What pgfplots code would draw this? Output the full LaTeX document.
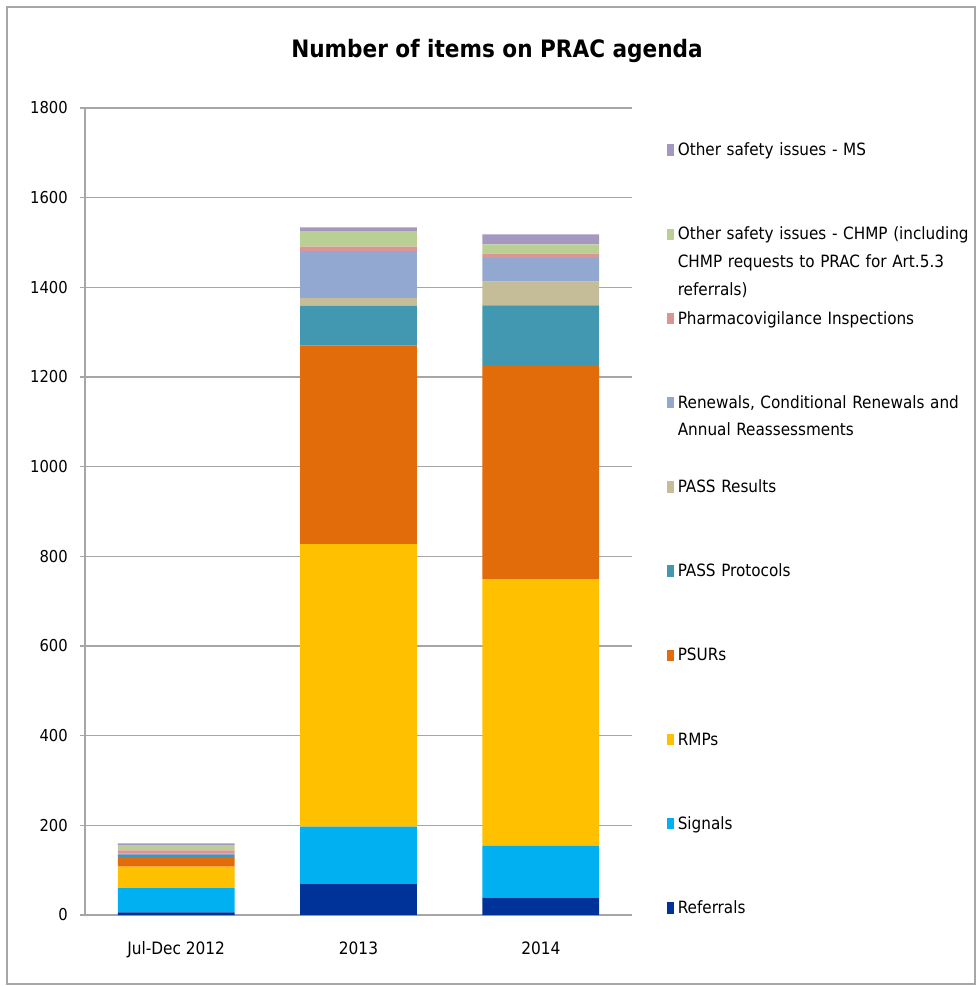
\documentclass[border=0pt]{standalone}
\usepackage{pgfplots}
\pgfplotsset{compat=1.18}
\usepackage{pgfplotstable}
\usepackage{fontspec}
\IfFontExistsTF{DejaVu Sans Condensed}{\setmainfont{DejaVu Sans Condensed}}{\setmainfont{DejaVu Sans}[FakeStretch=0.88]}

\definecolor{cRef}{HTML}{003399}
\definecolor{cSig}{HTML}{00B0F0}
\definecolor{cRmp}{HTML}{FFC000}
\definecolor{cPsur}{HTML}{E36C0A}
\definecolor{cProt}{HTML}{4298B0}
\definecolor{cRes}{HTML}{C4BD97}
\definecolor{cRen}{HTML}{93A8D0}
\definecolor{cPi}{HTML}{D99694}
\definecolor{cChmp}{HTML}{BACF94}
\definecolor{cMs}{HTML}{A598C0}
\definecolor{cGrid}{HTML}{A6A6A6}

\pgfplotstableread{
x ref sig rmp psur prot res ren pi chmp ms
0 6 54 48 21 5 0 3 7 11 5
1 70 127 630 443 89 17 105 10 33 10
2 39 116 594 475 136 53 52 10 21 22
}\datatable

\pgfplotsset{myleg/.style={legend image code/.code={\fill[##1,draw=none] (0pt,0pt) rectangle (5.5pt,8.5pt);}}}

\begin{document}
\begin{tikzpicture}
\useasboundingbox (-63.75pt,-53.25pt) rectangle (669pt,686.25pt);
\draw[cGrid, line width=1pt] (-58.5pt,-51.75pt) rectangle (667.5pt,681pt);
\node[font=\fontsize{18}{21}\selectfont\bfseries] at (309pt,648pt) {Number of items on PRAC agenda};
\begin{axis}[
  at={(0pt,0pt)}, anchor=south west, scale only axis,
  width=410.25pt, height=605.25pt,
  ybar stacked, bar width=0.64,
  xmin=-0.5, xmax=2.5, ymin=0, ymax=1800,
  xtick={0,1,2}, xticklabels={Jul-Dec 2012,2013,2014},
  ytick={0,200,...,1800},
  ymajorgrids, grid style={line width=1pt, cGrid},
  axis x line*=bottom, axis y line*=left,
  axis line style={line width=1pt, cGrid, -},
  x tick style={draw=none},
  y tick style={line width=1pt, cGrid},
  tick align=outside, major tick length=3.75pt,
  /pgf/number format/assume math mode=true,
  /pgf/number format/1000 sep={},
  yticklabel style={font=\fontsize{12.3}{14}\selectfont, anchor=east, inner sep=0pt, xshift=-9pt},
  xticklabel style={font=\fontsize{12.8}{14}\selectfont, anchor=base, inner sep=0pt, yshift=-25.5pt},
  reverse legend,
  legend style={at={(1.0635,0.9575)}, anchor=north west, draw=none, fill=none,
    inner sep=0pt, outer sep=0pt, row sep=3.17pt, column sep=2.8pt,
    font=\fontsize{12.7}{20.7}\selectfont,
    cells={anchor=base west},
    nodes={inner sep=0pt, text width=8cm, align=left, text height=10pt, text depth=50pt}},
]
\addplot[fill=cRef, draw=none, myleg] table[x=x, y=ref] {\datatable};
\addlegendentry{Referrals}
\addplot[fill=cSig, draw=none, myleg] table[x=x, y=sig] {\datatable};
\addlegendentry{Signals}
\addplot[fill=cRmp, draw=none, myleg] table[x=x, y=rmp] {\datatable};
\addlegendentry{RMPs}
\addplot[fill=cPsur, draw=none, myleg] table[x=x, y=psur] {\datatable};
\addlegendentry{PSURs}
\addplot[fill=cProt, draw=none, myleg] table[x=x, y=prot] {\datatable};
\addlegendentry{PASS Protocols}
\addplot[fill=cRes, draw=none, myleg] table[x=x, y=res] {\datatable};
\addlegendentry{PASS Results}
\addplot[fill=cRen, draw=none, myleg] table[x=x, y=ren] {\datatable};
\addlegendentry{Renewals, Conditional Renewals and\\Annual Reassessments}
\addplot[fill=cPi, draw=none, myleg] table[x=x, y=pi] {\datatable};
\addlegendentry{Pharmacovigilance Inspections}
\addplot[fill=cChmp, draw=none, myleg] table[x=x, y=chmp] {\datatable};
\addlegendentry{Other safety issues - CHMP (including\\CHMP requests to PRAC for Art.5.3\\referrals)}
\addplot[fill=cMs, draw=none, myleg] table[x=x, y=ms] {\datatable};
\addlegendentry{Other safety issues - MS}
\end{axis}
\end{tikzpicture}
\end{document}
